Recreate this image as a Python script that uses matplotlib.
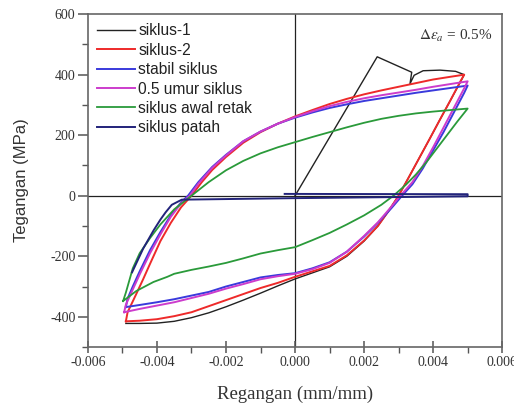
import matplotlib
matplotlib.use("Agg")
import matplotlib.pyplot as plt
from matplotlib.ticker import MultipleLocator, FormatStrFormatter

# ---- data (strain mm/mm, stress MPa) ----
siklus1_x = [0.0, 0.00238, 0.00338, 0.00333, 0.00345, 0.00371, 0.0042, 0.00465, 0.0049,
             0.0048, 0.0045, 0.0042, 0.0039, 0.0036, 0.0033, 0.003, 0.0027, 0.0024, 0.002,
             0.0015, 0.001, 0.0005, 0.0, -0.0005, -0.001, -0.0015, -0.002, -0.0025, -0.003,
             -0.0035, -0.004, -0.0045, -0.0049]
siklus1_y = [0, 459, 408, 370, 398, 413, 415, 411, 400,
             378, 315, 252, 188, 125, 62, 0, -52, -100, -150,
             -200, -235, -255, -275, -298, -322, -345, -367, -387, -403,
             -415, -421, -422, -422]

siklus2_x = [-0.0049, -0.00485, -0.0046, -0.0044, -0.0042, -0.0039, -0.0036, -0.0033, -0.003,
             -0.0027, -0.0024, -0.002, -0.0015, -0.001, -0.0005, 0.0, 0.0005, 0.001, 0.0015,
             0.002, 0.0025, 0.003, 0.0035, 0.004, 0.0045, 0.0049,
             0.0048, 0.0045, 0.0042, 0.0039, 0.0036, 0.0033, 0.003, 0.0027, 0.0024, 0.002,
             0.0015, 0.001, 0.0005, 0.0, -0.0005, -0.001, -0.0015, -0.002, -0.0025, -0.003,
             -0.0035, -0.004, -0.0045, -0.0049]
siklus2_y = [-415, -385, -325, -276, -225, -150, -90, -38, 0,
             45, 85, 128, 175, 210, 238, 262, 283, 303, 320,
             335, 348, 360, 372, 384, 393, 400,
             380, 315, 252, 188, 125, 62, 0, -52, -100, -148,
             -197, -232, -250, -268, -288, -305, -325, -345, -365, -385,
             -398, -408, -413, -415]

stabil_x = [-0.0049, -0.00485, -0.0047, -0.0045, -0.0042, -0.0039, -0.0036, -0.0033, -0.0031,
            -0.0028, -0.0024, -0.002, -0.0015, -0.001, -0.0005, 0.0, 0.0005, 0.001, 0.0015,
            0.002, 0.0025, 0.003, 0.0035, 0.004, 0.0045, 0.005,
            0.0049, 0.0046, 0.0043, 0.004, 0.0037, 0.0034, 0.0031, 0.0028, 0.0024, 0.002,
            0.0015, 0.001, 0.0005, 0.0, -0.0005, -0.001, -0.0015, -0.002, -0.0025, -0.003,
            -0.0035, -0.004, -0.0045, -0.0049]
stabil_y = [-368, -340, -300, -250, -180, -120, -65, -22, 0,
            45, 95, 135, 180, 212, 238, 258, 275, 290, 302,
            313, 322, 331, 340, 348, 356, 364,
            340, 275, 210, 150, 90, 38, 0, -40, -90, -135,
            -185, -220, -240, -256, -262, -270, -285, -300, -318, -330,
            -342, -352, -361, -368]

umur_x = [-0.00495, -0.0049, -0.0047, -0.0045, -0.0042, -0.0039, -0.0036, -0.0033, -0.00305,
          -0.0028, -0.0024, -0.002, -0.0015, -0.001, -0.0005, 0.0, 0.0005, 0.001, 0.0015,
          0.002, 0.0025, 0.003, 0.0035, 0.004, 0.0045, 0.005,
          0.0049, 0.0046, 0.0043, 0.004, 0.0037, 0.0034, 0.00305, 0.0028, 0.0024, 0.002,
          0.0015, 0.001, 0.0005, 0.0, -0.0005, -0.001, -0.0015, -0.002, -0.0025, -0.003,
          -0.0035, -0.004, -0.0045, -0.00495]
umur_y = [-385, -360, -310, -260, -190, -128, -70, -25, 0,
          40, 92, 133, 180, 212, 238, 260, 279, 296, 310,
          322, 332, 341, 350, 360, 369, 378,
          355, 290, 225, 160, 98, 45, 0, -35, -88, -133,
          -185, -222, -243, -258, -266, -276, -292, -307, -324, -338,
          -352, -363, -374, -385]

retak_x = [-0.00498, -0.0049, -0.0047, -0.0045, -0.0042, -0.0039, -0.0035, -0.003,
           -0.0025, -0.002, -0.0015, -0.001, -0.0005, 0.0, 0.0005, 0.001, 0.0015,
           0.002, 0.0025, 0.003, 0.0035, 0.004, 0.0045, 0.005,
           0.0047, 0.0044, 0.0041, 0.0038, 0.0035, 0.0032, 0.00285, 0.0025, 0.002,
           0.0015, 0.001, 0.0005, 0.0, -0.0005, -0.001, -0.0015, -0.002, -0.0025, -0.003,
           -0.0035, -0.0037, -0.0041, -0.0046, -0.00498]
retak_y = [-348, -320, -240, -190, -140, -95, -45, 0,
           45, 84, 115, 140, 160, 177, 194, 210, 226,
           241, 254, 264, 272, 278, 283, 288,
           245, 200, 155, 110, 70, 35, 0, -30, -65,
           -95, -123, -147, -170, -180, -191, -207, -222, -234, -245,
           -258, -268, -285, -315, -348]

patah_x = [-0.00472, -0.0044, -0.0041, -0.0039, -0.00375, -0.00357, -0.00328, 0.0, 0.005,
           0.005, -0.0003]
patah_y = [-253, -175, -115, -79, -55, -30, -13, -8, -2,
           5, 6]

series = [
    ("siklus-1", siklus1_x, siklus1_y, "#222222", 1.0),
    ("siklus-2", siklus2_x, siklus2_y, "#ee2a2a", 1.4),
    ("stabil siklus", stabil_x, stabil_y, "#3a3adc", 1.4),
    ("0.5 umur siklus", umur_x, umur_y, "#cc3ccc", 1.4),
    ("siklus awal retak", retak_x, retak_y, "#2a9a3a", 1.3),
    ("siklus patah", patah_x, patah_y, "#22237a", 1.4),
]

plt.rcParams["mathtext.fontset"] = "stix"
plt.rcParams["axes.unicode_minus"] = False

fig = plt.figure(figsize=(5.14, 4.04), dpi=100)
ax = fig.add_axes([0.171, 0.141, 0.806, 0.824])

ax.axhline(0, color="#222222", lw=0.9, zorder=1)
ax.axvline(0, color="#222222", lw=0.9, zorder=1)

for label, xs, ys, color, lw in series:
    ax.plot(xs, ys, color=color, lw=lw, label=label, zorder=2)

ax.set_xlim(-0.006, 0.006)
ax.set_ylim(-500, 600)
ax.xaxis.set_major_locator(MultipleLocator(0.002))
ax.xaxis.set_minor_locator(MultipleLocator(0.001))
ax.xaxis.set_major_formatter(FormatStrFormatter("%.3f"))
ax.yaxis.set_major_locator(MultipleLocator(200))
ax.yaxis.set_minor_locator(MultipleLocator(100))

for s in ax.spines.values():
    s.set_color("#666666")
    s.set_linewidth(1.2)

ax.tick_params(axis="x", which="major", direction="inout", length=9, width=1.1,
               color="#555555", labelsize=10, labelcolor="#333333", pad=2)
ax.tick_params(axis="x", which="minor", direction="out", length=4, width=1.0, color="#555555")
ax.tick_params(axis="y", which="major", direction="out", length=7, width=1.1,
               color="#555555", labelsize=10, labelcolor="#333333", pad=2)
ax.tick_params(axis="y", which="minor", direction="out", length=4, width=1.0, color="#555555")
for lab in ax.get_xticklabels() + ax.get_yticklabels():
    lab.set_fontfamily("Liberation Serif")

ax.set_xlabel("Regangan (mm/mm)", family="Liberation Serif", fontsize=13.5, color="#333333", labelpad=12)
ax.set_ylabel("Tegangan (MPa)", family="Liberation Sans", fontsize=12, color="#333333", labelpad=15)

ax.text(0.00465, 528, r"$\Delta\varepsilon_a$ = 0.5%", family="Liberation Serif",
        fontsize=11, color="#333333", ha="center", va="center")

leg = ax.legend(loc="upper left", frameon=False, handlelength=2.4, handletextpad=0.25,
                labelspacing=0.28, borderaxespad=0.2,
                prop={"family": "Liberation Sans", "size": 11.2})
for t in leg.get_texts():
    t.set_color("#222222")

fig.savefig("out.png", dpi=100)
